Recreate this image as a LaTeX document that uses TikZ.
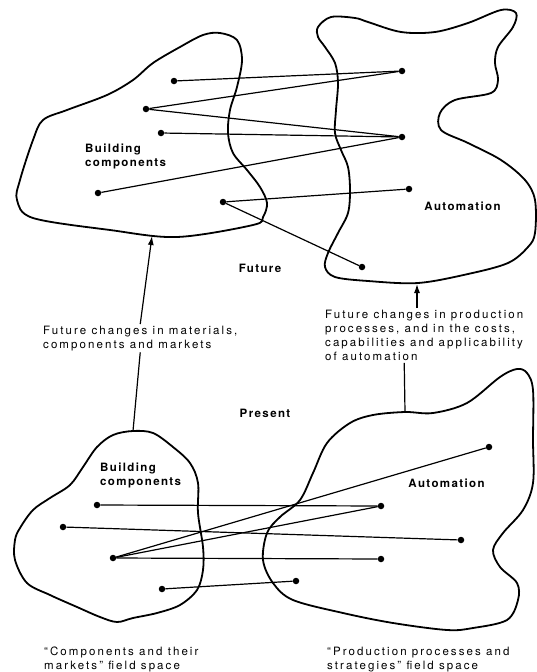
\documentclass[tikz,border=0pt]{standalone}
\usepackage{fontspec}
\usepackage{tikz}
\usetikzlibrary{arrows.meta}
\newfontfamily\figfont[LetterSpace=18,BoldFeatures={LetterSpace=12}]{TeX Gyre Heros}
\newcommand{\spot}[2]{\node[spot] (#1) at (#2) {}}

\begin{document}
\begin{tikzpicture}[x=1pt,y=-1pt,
    font=\figfont\fontsize{11.5}{14}\selectfont,
    blob/.style={line width=1.8pt,line join=round},
    link/.style={line width=1.2pt},
    spot/.style={circle,fill=black,inner sep=0pt,minimum size=6.5pt},
    lbl/.style={align=left,anchor=north west,inner sep=1.5pt},
    tag/.style={font=\figfont\bfseries\fontsize{11.5}{14.5}\selectfont,align=left},
    arr/.style={line width=1.2pt,-{Latex[length=9pt,width=6pt]}}]
    \useasboundingbox (0,0) rectangle (536,672);

    % future
    \draw[blob] plot[smooth cycle,tension=0.55] coordinates {
      (220,33) (237,40) (242,60) (237,87) (230,110) (228,133) (233,153)
      (247,170) (260,187) (267,203) (263,217) (253,225) (177,237) (110,230)
      (33,218) (17,200) (20,180) (33,140) (43,120) (67,110) (107,95)
      (133,80) (153,63) (180,47) (203,35)};
    \draw[blob] plot[smooth cycle,tension=0.55] coordinates {
      (318,27) (331,17) (355,18) (368,22) (401,32) (435,32) (468,23)
      (501,10) (516,13) (513,27) (498,47) (495,63) (498,80) (491,93)
      (455,100) (440,113) (441,130) (468,143) (501,160) (525,180) (535,200)
      (535,233) (528,247) (508,263) (468,274) (418,283) (368,281) (335,277)
      (325,267) (328,253) (338,233) (348,213) (350,190) (348,167) (341,150)
      (335,133) (336,110) (338,83) (335,63) (325,47) (318,37)};

    \spot{fb1}{174,81};
    \spot{fb2}{146,109};
    \spot{fb3}{161,133};
    \spot{fb4}{98,193};
    \spot{fb5}{223,202};
    \spot{fa1}{402,71};
    \spot{fa2}{402,137};
    \spot{fa3}{409,189};
    \spot{fa4}{362,267};

    \draw[link] (fb1) -- (fa1);
    \draw[link] (fb2) -- (fa1);
    \draw[link] (fb2) -- (fa2);
    \draw[link] (fb3) -- (fa2);
    \draw[link] (fb4) -- (fa2);
    \draw[link] (fb5) -- (fa3);
    \draw[link] (fb5) -- (fa4);

    \node[tag,anchor=north west,inner sep=1.5pt] (fbname) at (83.5,142) {Building\\components};
    \node[tag] (faname) at (462.5,206) {Automation};
    \node[tag] (future) at (260,268) {Future};

    % changes
    \node[lbl] (chgcomp) at (41.5,324) {Future changes in materials,\\components and markets};
    \node[lbl,font=\figfont\fontsize{11.5}{14.3}\selectfont] (chgauto) at (323.5,308)
      {Future changes in production\\processes, and in the costs,\\capabilities and applicability\\of automation};
    \coordinate (fbtip) at (152,236);
    \coordinate (fatip) at (417,284);
    \coordinate (pbtop) at (133,431);
    \coordinate (patop) at (405,412);
    \draw[arr] (chgcomp.north) -- (fbtip);
    \draw[arr] (chgauto.north -| fatip) -- (fatip);
    \draw[link] (chgcomp.south) -- (pbtop);
    \draw[link] ([xshift=-20pt]chgauto.south) -- (patop);

    % present
    \node[tag] (present) at (265,413) {Present};
    \draw[blob] plot[smooth cycle,tension=0.55] coordinates {
      (133,431) (153,433) (173,447) (190,463) (198,483) (198,513) (203,547)
      (203,570) (197,590) (180,605) (157,613) (133,618) (117,622) (100,617)
      (77,607) (50,595) (27,583) (15,560) (15,540) (20,528) (33,510)
      (50,498) (70,485) (83,467) (97,447) (113,435)};
    \draw[blob] plot[smooth cycle,tension=0.55] coordinates {
      (405,412) (433,413) (467,403) (500,377) (517,369) (527,373) (533,390)
      (533,440) (533,483) (523,510) (503,533) (493,550) (500,567) (517,583)
      (518,600) (507,620) (473,628) (447,630) (393,623) (343,613) (293,600)
      (273,583) (263,560) (267,533) (280,517) (300,500) (313,473) (327,443)
      (350,423) (373,415)};

    \spot{pb1}{97,505};
    \spot{pb2}{63,527};
    \spot{pb3}{113,558};
    \spot{pb4}{162,589};
    \spot{pa1}{489,447};
    \spot{pa2}{381,506};
    \spot{pa3}{461,540};
    \spot{pa4}{381,559};
    \spot{pa5}{296,581};

    \draw[link] (pb1) -- (pa2);
    \draw[link] (pb2) -- (pa3);
    \draw[link] (pb3) -- (pa1);
    \draw[link] (pb3) -- (pa2);
    \draw[link] (pb3) -- (pa4);
    \draw[link] (pb4) -- (pa5);

    \node[tag,anchor=north west,inner sep=1.5pt] (pbname) at (98.5,461) {Building\\components};
    \node[tag] (paname) at (446.5,483) {Automation};

    % field spaces
    \node[lbl] (cspace) at (42.5,645) {“Components and their\\markets” field space};
    \node[lbl] (pspace) at (325.5,645) {“Production processes and\\strategies” field space};
\end{tikzpicture}
\end{document}
